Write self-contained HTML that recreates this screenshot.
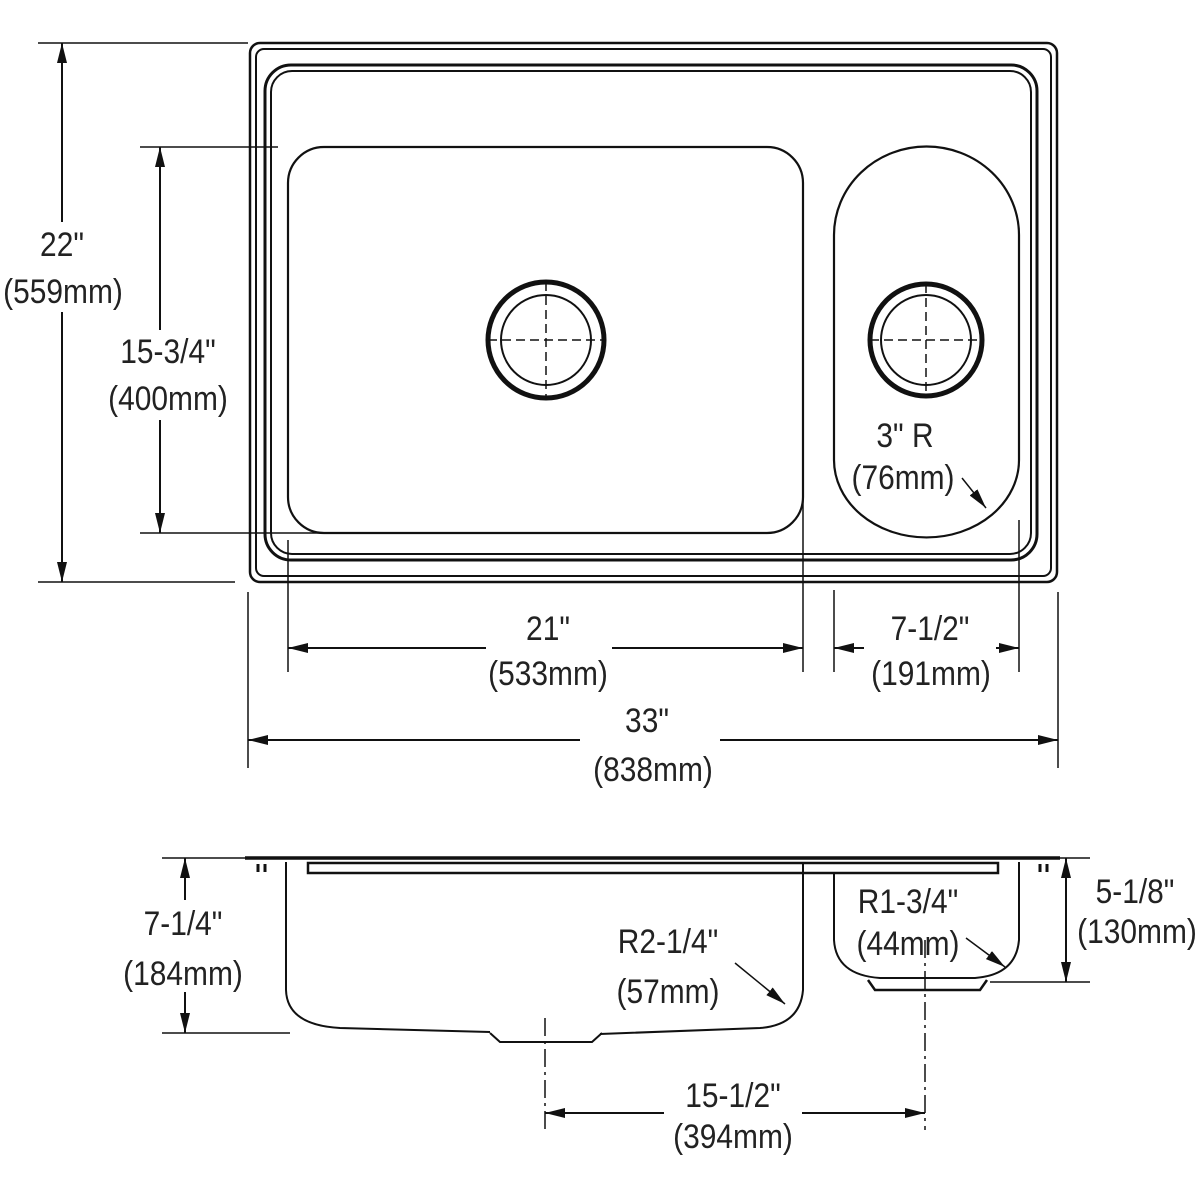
<!DOCTYPE html>
<html><head><meta charset="utf-8"><style>
html,body{margin:0;padding:0;background:#fff}
svg{display:block}
text{font-family:"Liberation Sans",sans-serif;font-size:34px;fill:#222;text-anchor:middle}
</style></head><body>
<svg width="1200" height="1200" viewBox="0 0 1200 1200" xmlns="http://www.w3.org/2000/svg">
<defs>
<marker id="a" viewBox="0 0 20 10" refX="20" refY="5" markerWidth="20" markerHeight="10" markerUnits="userSpaceOnUse" orient="auto-start-reverse"><path d="M0,0 L20,5 L0,10 z" fill="#111"/></marker>
</defs>
<g fill="none" stroke="#111">
<rect x="250" y="43" width="807" height="539" rx="10" stroke-width="2.5"/>
<rect x="256" y="49" width="795" height="527" rx="8" stroke-width="2"/>
<rect x="265" y="65" width="772" height="495" rx="26" stroke-width="3"/>
<rect x="271" y="71" width="760" height="483" rx="21" stroke-width="2"/>
<rect x="288" y="147" width="515" height="386" rx="36" stroke-width="2.2"/>
<circle cx="546" cy="340" r="58" stroke-width="5"/>
<circle cx="546" cy="340" r="45" stroke-width="2"/>
<line x1="546" y1="282" x2="546" y2="398" stroke-width="1.5" stroke-dasharray="9,5"/>
<line x1="488" y1="340" x2="604" y2="340" stroke-width="1.5" stroke-dasharray="9,5"/>
<path d="M834,235 A92,88 0 0 1 1019,235 L1019,460 A92,77 0 0 1 834,460 Z" stroke-width="2.2"/>
<circle cx="926" cy="340" r="56" stroke-width="5"/>
<circle cx="926" cy="340" r="45" stroke-width="2"/>
<line x1="926" y1="284" x2="926" y2="396" stroke-width="1.5" stroke-dasharray="9,5"/>
<line x1="870" y1="340" x2="982" y2="340" stroke-width="1.5" stroke-dasharray="9,5"/>
<g stroke-width="1.5">
<line x1="38" y1="43" x2="248" y2="43"/><line x1="38" y1="582" x2="235" y2="582"/>
<line x1="140" y1="147" x2="278" y2="147"/><line x1="140" y1="533" x2="320" y2="533"/>
<line x1="288" y1="540" x2="288" y2="672"/><line x1="803" y1="500" x2="803" y2="672"/>
<line x1="834" y1="590" x2="834" y2="672"/><line x1="1019" y1="520" x2="1019" y2="672"/>
<line x1="248" y1="592" x2="248" y2="768"/><line x1="1058" y1="592" x2="1058" y2="768"/>
</g>
<g stroke-width="2" marker-start="url(#a)" marker-end="url(#a)">
<line x1="62" y1="43" x2="62" y2="582"/>
<line x1="160" y1="147" x2="160" y2="533"/>
<line x1="288" y1="648" x2="803" y2="648"/>
<line x1="834" y1="648" x2="1019" y2="648"/>
<line x1="248" y1="740" x2="1058" y2="740"/>
<line x1="185" y1="858" x2="185" y2="1033"/>
<line x1="1066" y1="858" x2="1066" y2="982"/>
<line x1="545" y1="1113" x2="925" y2="1113"/>
</g>
<g stroke-width="1.5" marker-end="url(#a)">
<line x1="962" y1="478" x2="986" y2="508"/>
<line x1="735" y1="963" x2="785" y2="1004"/>
<line x1="966" y1="938" x2="1005" y2="967"/>
</g>
<line x1="245" y1="858" x2="1060" y2="858" stroke-width="3.5"/>
<rect x="308" y="863" width="690" height="10" stroke-width="2.5"/>
<path d="M286,862 L286,990 Q287,1025 340,1028 L490,1032 M803,862 L803,990 Q800,1025 760,1028 L600,1034" stroke-width="2"/>
<path d="M490,1033 L500,1042 L592,1042 L602,1033" stroke-width="2"/>
<path d="M834,873 L834,940 Q836,975 880,978 L975,978 Q1016,975 1019,940 L1019,862" stroke-width="2"/>
<path d="M868,980 L875,990 L980,990 L987,980" stroke-width="2.5"/>
<path d="M258,864 v8 M265,864 v8 M1040,864 v8 M1047,864 v8" stroke-width="3"/>
<g stroke-width="1.5">
<line x1="162" y1="858" x2="245" y2="858"/><line x1="162" y1="1033" x2="290" y2="1033"/>
<line x1="1050" y1="858" x2="1090" y2="858"/><line x1="990" y1="982" x2="1090" y2="982"/>
<line x1="545" y1="1018" x2="545" y2="1130" stroke-dasharray="18,5,3,5"/>
<line x1="925" y1="940" x2="925" y2="1130" stroke-dasharray="18,5,3,5"/>
</g>
</g>
<g>
<rect x="2" y="222" width="124" height="90" fill="#fff"/>
<rect x="100" y="330" width="134" height="90" fill="#fff"/>
<rect x="486" y="610" width="126" height="80" fill="#fff"/>
<rect x="864" y="610" width="132" height="80" fill="#fff"/>
<rect x="580" y="705" width="140" height="80" fill="#fff"/>
<rect x="118" y="900" width="134" height="92" fill="#fff"/>
<rect x="1072" y="870" width="128" height="80" fill="#fff"/>
<rect x="664" y="1085" width="138" height="75" fill="#fff"/>
<text transform="matrix(0.88 0 0 1 62 256)">22"</text><text transform="matrix(0.88 0 0 1 63 303)">(559mm)</text>
<text transform="matrix(0.88 0 0 1 168 363)">15-3/4"</text><text transform="matrix(0.88 0 0 1 168 410)">(400mm)</text>
<text transform="matrix(0.88 0 0 1 548 640)">21"</text><text transform="matrix(0.88 0 0 1 548 685)">(533mm)</text>
<text transform="matrix(0.88 0 0 1 930 640)">7-1/2"</text><text transform="matrix(0.88 0 0 1 931 685)">(191mm)</text>
<text transform="matrix(0.88 0 0 1 647 732)">33"</text><text transform="matrix(0.88 0 0 1 653 781)">(838mm)</text>
<text transform="matrix(0.88 0 0 1 905 447)">3" R</text><text transform="matrix(0.88 0 0 1 903 489)">(76mm)</text>
<text transform="matrix(0.88 0 0 1 183 935)">7-1/4"</text><text transform="matrix(0.88 0 0 1 183 985)">(184mm)</text>
<text transform="matrix(0.88 0 0 1 668 953)">R2-1/4"</text><text transform="matrix(0.88 0 0 1 668 1003)">(57mm)</text>
<text transform="matrix(0.88 0 0 1 908 913)">R1-3/4"</text><text transform="matrix(0.88 0 0 1 908 955)">(44mm)</text>
<text transform="matrix(0.88 0 0 1 1135 903)">5-1/8"</text><text transform="matrix(0.88 0 0 1 1137 943)">(130mm)</text>
<text transform="matrix(0.88 0 0 1 733 1107)">15-1/2"</text><text transform="matrix(0.88 0 0 1 733 1148)">(394mm)</text>
</g>
</svg>
</body></html>
